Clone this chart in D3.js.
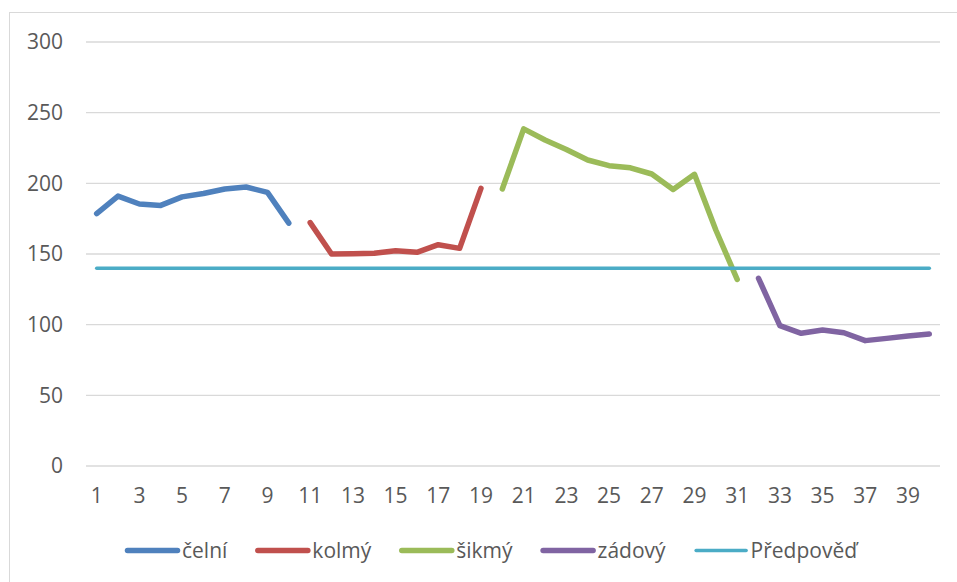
<!DOCTYPE html>
<html>
<head>
<meta charset="utf-8">
<script src="https://cdn.jsdelivr.net/npm/d3@7"></script>
<style>
  html, body { margin: 0; padding: 0; background: #fff; }
  svg { display: block; font-family: "Open Sans", sans-serif; }
</style>
</head>
<body>
<svg id="chart" width="957" height="582"></svg>
<script>
// ---- data ----
const categories = d3.range(1, 41);
const xTickLabels = d3.range(1, 40, 2);
const yTickLabels = [0, 50, 100, 150, 200, 250, 300];

const celniX = [1, 2, 3, 4, 5, 6, 7, 8, 9, 10];
const celni  = [178.6, 191, 185.4, 184.4, 190.4, 192.8, 196, 197.4, 193.6, 171.8];

const kolmyX = [11, 12, 13, 14, 15, 16, 17, 18, 19];
const kolmy  = [172.2, 150, 150.2, 150.5, 152.3, 151.2, 156.6, 154, 196.4];

const sikmyX = [20, 21, 22, 23, 24, 25, 26, 27, 28, 29, 30, 31];
const sikmy  = [196, 238.5, 230.7, 224, 216.5, 212.5, 211, 206.6, 195.6, 206.4, 167, 132];

const zadovyX = [32, 33, 34, 35, 36, 37, 38, 39, 40];
const zadovy  = [132.8, 99.3, 93.9, 96.2, 94.3, 88.7, 90.3, 92, 93.4];

const predpovedX = categories;
const predpoved  = categories.map(() => 140);

const seriesNames = ["čelní", "kolmý", "šikmý", "zádový", "Předpověď"];
const seriesColors = ["#4f81bd", "#c0504d", "#9bbb59", "#8064a2", "#4bacc6"];

// ---- build ----
const series = [
  { name: seriesNames[0], xs: celniX, ys: celni, color: seriesColors[0], w: 5.5 },
  { name: seriesNames[1], xs: kolmyX, ys: kolmy, color: seriesColors[1], w: 5.5 },
  { name: seriesNames[2], xs: sikmyX, ys: sikmy, color: seriesColors[2], w: 5.5 },
  { name: seriesNames[3], xs: zadovyX, ys: zadovy, color: seriesColors[3], w: 5.5 },
  { name: seriesNames[4], xs: predpovedX, ys: predpoved, color: seriesColors[4], w: 3.5 }
];

const FS = 21;
const svg = d3.select("#chart");
const plot = { left: 86, right: 940, top: 42, bottom: 466 };

// chart border
svg.append("rect")
  .attr("x", 9.5).attr("y", 12.5)
  .attr("width", 1000).attr("height", 1000)
  .attr("fill", "none").attr("stroke", "#d9d9d9").attr("stroke-width", 1);

const x = d3.scaleBand().domain(categories).range([plot.left, plot.right]);
const cx = d => x(d) + x.bandwidth() / 2;
const y = d3.scaleLinear().domain([0, 300]).range([plot.bottom, plot.top]);

// gridlines
svg.append("g").selectAll("line").data(yTickLabels).join("line")
  .attr("x1", plot.left).attr("x2", plot.right)
  .attr("y1", d => y(d)).attr("y2", d => y(d))
  .attr("stroke", "#d9d9d9").attr("stroke-width", 1.3);

// y axis
const yAxis = d3.axisLeft(y).tickValues(yTickLabels).tickSize(0).tickPadding(0);
const gy = svg.append("g").attr("transform", `translate(63,0)`).call(yAxis);
gy.select(".domain").remove();
gy.selectAll("text").attr("fill", "#595959").attr("font-size", FS)
  .attr("font-family", "Open Sans, sans-serif");

// x axis
const xAxis = d3.axisBottom(x).tickValues(xTickLabels).tickSize(0).tickPadding(0);
const gx = svg.append("g").attr("transform", `translate(0,${plot.bottom + 22})`).call(xAxis);
gx.select(".domain").remove();
gx.selectAll("text").attr("fill", "#595959").attr("font-size", FS)
  .attr("font-family", "Open Sans, sans-serif").attr("dy", "0.71em");

// lines
const line = d3.line().x(d => cx(d[0])).y(d => y(d[1]));
series.forEach(s => {
  svg.append("path")
    .datum(s.xs.map((xv, i) => [xv, s.ys[i]]))
    .attr("d", line)
    .attr("fill", "none")
    .attr("stroke", s.color)
    .attr("stroke-width", s.w)
    .attr("stroke-linejoin", "round")
    .attr("stroke-linecap", "round");
});

// legend
const legY = 550.5;
let lx = 125;
series.forEach(s => {
  const g = svg.append("g");
  g.append("line")
    .attr("x1", lx + 2.5).attr("x2", lx + 52.5)
    .attr("y1", legY).attr("y2", legY)
    .attr("stroke", s.color).attr("stroke-width", s.w)
    .attr("stroke-linecap", "round");
  const t = g.append("text")
    .attr("x", lx + 57).attr("y", legY)
    .attr("dy", "0.35em")
    .attr("fill", "#595959").attr("font-size", FS)
    .text(s.name);
  const w = t.node().getComputedTextLength();
  lx = lx + 57 + w + 28;
});
</script>
</body>
</html>
